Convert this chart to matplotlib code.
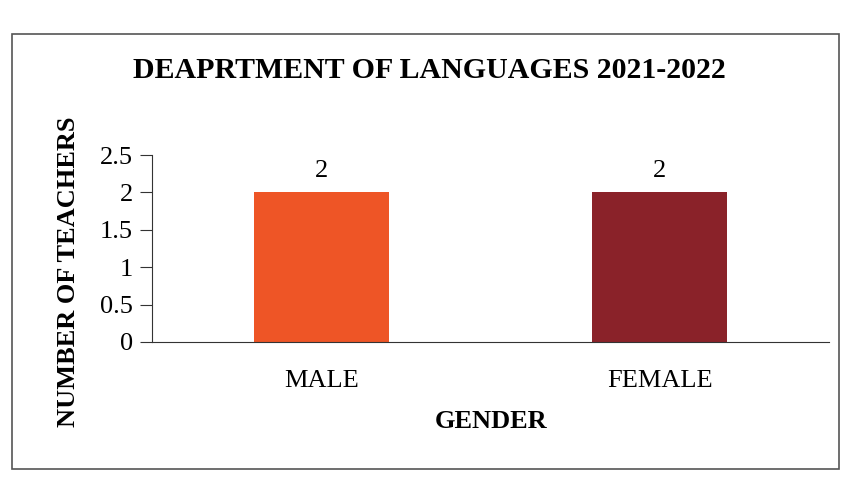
import matplotlib.pyplot as plt
from matplotlib.patches import Rectangle

# data
genders = ['MALE', 'FEMALE']
teachers = [2, 2]
bar_colors = ['#EE5526', '#8A2229']
y_ticks = [0, 0.5, 1, 1.5, 2, 2.5]

plt.rcParams['font.family'] = ['Liberation Serif', 'DejaVu Serif']

fig = plt.figure(figsize=(8.51, 4.83), dpi=100)
fig.patch.set_facecolor('white')

# outer chart border
fig.patches.append(Rectangle((0.014, 0.03), 0.972, 0.90, transform=fig.transFigure,
                             fill=False, edgecolor='#555555', linewidth=1.2))

ax = fig.add_axes([0.179, 0.292, 0.795, 0.387])
x = range(len(genders))
bars = ax.bar(x, teachers, width=0.4, color=bar_colors)

# value labels
for b, v in zip(bars, teachers):
    ax.text(b.get_x() + b.get_width() / 2, v + 0.14, str(v),
            ha='center', va='bottom', fontsize=19)

ax.set_xlim(-0.5, 1.5)
ax.set_ylim(0, 2.5)
ax.set_yticks(y_ticks)
ax.set_yticklabels(['0', '0.5', '1', '1.5', '2', '2.5'])
ax.set_xticks(list(x))
ax.set_xticklabels(genders)
ax.tick_params(axis='y', direction='out', length=9, labelsize=19, pad=5, color='#333333')
ax.tick_params(axis='x', length=0, labelsize=19, pad=20)

for s in ['top', 'right']:
    ax.spines[s].set_visible(False)
ax.spines['left'].set_color('#333333')
ax.spines['bottom'].set_color('#333333')

ax.set_xlabel('GENDER', fontsize=19, fontweight='bold', va='center')
ax.xaxis.set_label_coords(0.5, -0.428)
ax.set_ylabel('NUMBER OF TEACHERS', fontsize=19, fontweight='bold', va='center')
ax.yaxis.set_label_coords(-0.124, 0.374)

fig.text(0.505, 0.855, 'DEAPRTMENT OF LANGUAGES 2021-2022', ha='center', va='center',
         fontsize=21.5, fontweight='bold')

fig.savefig('out.png', dpi=100)
